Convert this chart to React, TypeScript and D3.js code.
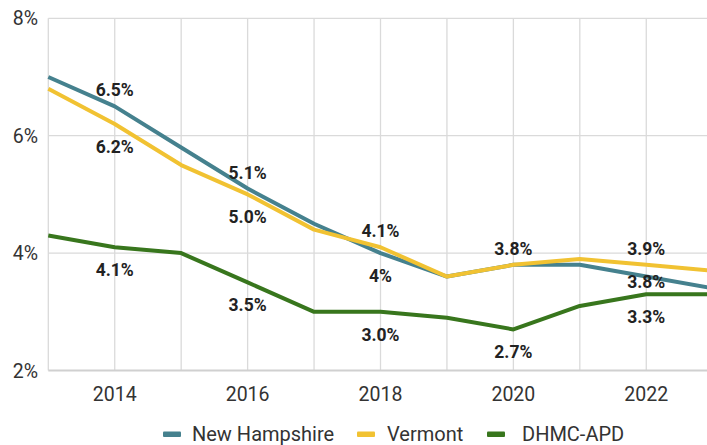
import React from "react";
import * as d3 from "d3";

const years = [2013, 2014, 2015, 2016, 2017, 2018, 2019, 2020, 2021, 2022, 2023];
const newHampshire = [7.0, 6.5, 5.8, 5.1, 4.5, 4.0, 3.6, 3.8, 3.8, 3.6, 3.4];
const vermont = [6.8, 6.2, 5.5, 5.0, 4.4, 4.1, 3.6, 3.8, 3.9, 3.8, 3.7];
const dhmcApd = [4.3, 4.1, 4.0, 3.5, 3.0, 3.0, 2.9, 2.7, 3.1, 3.3, 3.3];

const seriesNames = ["New Hampshire", "Vermont", "DHMC-APD"];
const yTicks = [2, 4, 6, 8];
const xTickYears = [2014, 2016, 2018, 2020, 2022];

// data labels: series index, year, text, placement
const labelSeries = [0, 1, 0, 1, 1, 0, 1, 1, 0, 2, 2, 2, 2, 2];
const labelYears = [2014, 2014, 2016, 2016, 2018, 2018, 2020, 2022, 2022, 2014, 2016, 2018, 2020, 2022];
const labelTexts = ["6.5%", "6.2%", "5.1%", "5.0%", "4.1%", "4%", "3.8%", "3.9%", "3.8%", "4.1%", "3.5%", "3.0%", "2.7%", "3.3%"];
const labelPlaces = ["above", "below", "above", "below", "above", "below", "above", "above", "on", "below", "below", "below", "below", "below"];

const colors = ["#45818e", "#f1c232", "#38761d"];
const W = 707;
const H = 445;
const legendX = [163, 357, 487];
const legendTextGap = [29, 30, 35];

export default function App() {
  const x = d3.scaleLinear().domain([2013, 2023]).range([48.3, 712.7]);
  const y = d3.scaleLinear().domain([2, 8]).range([370.5, 18.3]);
  const allSeries = [newHampshire, vermont, dhmcApd];
  const line = d3
    .line<number>()
    .x((_, i) => x(years[i]))
    .y((v) => y(v));
  const placeDy: Record<string, number> = { above: -10, below: 29, on: 11 };
  const gridYears = years.filter((yr) => x(yr) <= W);

  return (
    <svg
      width={W}
      height={H}
      style={{ position: "absolute", left: 0, top: 0, background: "#fff" }}
      fontFamily="Roboto, 'Noto Sans', sans-serif"
    >
      <rect width={W} height={H} fill="#fff" />
      {gridYears.map((yr) => (
        <line key={"vx" + yr} x1={x(yr)} x2={x(yr)} y1={y(8)} y2={y(2)} stroke="#dadada" strokeWidth={1.3} />
      ))}
      {yTicks.map((t) => (
        <line key={"hy" + t} x1={x(2013)} x2={W} y1={y(t)} y2={y(t)} stroke={t === 2 ? "#d0d0d0" : "#dadada"} strokeWidth={t === 2 ? 2 : 1.3} />
      ))}
      {yTicks.map((t) => (
        <text key={"yl" + t} x={38} y={y(t) + 7} textAnchor="end" fontSize={19.5} fill="#333">
          {t}%
        </text>
      ))}
      {xTickYears.map((yr) => (
        <text key={"xl" + yr} x={x(yr)} y={401} textAnchor="middle" fontSize={19.5} fill="#333">
          {yr}
        </text>
      ))}
      {allSeries.map((s, i) => (
        <path key={"s" + i} d={line(s) || ""} fill="none" stroke={colors[i]} strokeWidth={4} strokeLinejoin="round" />
      ))}
      {labelTexts.map((txt, i) => {
        const s = allSeries[labelSeries[i]];
        const idx = years.indexOf(labelYears[i]);
        return (
          <text
            key={"lb" + i}
            x={x(labelYears[i])}
            y={y(s[idx]) + placeDy[labelPlaces[i]]}
            textAnchor="middle"
            fontSize={17.5}
            fontWeight="bold"
            fill="#222"
          >
            {txt}
          </text>
        );
      })}
      {seriesNames.map((name, i) => (
        <g key={"lg" + i}>
          <rect x={legendX[i]} y={431.5} width={18} height={5.5} fill={colors[i]} rx={1} />
          <text x={legendX[i] + legendTextGap[i]} y={441} fontSize={20} fill="#333">
            {name}
          </text>
        </g>
      ))}
    </svg>
  );
}
